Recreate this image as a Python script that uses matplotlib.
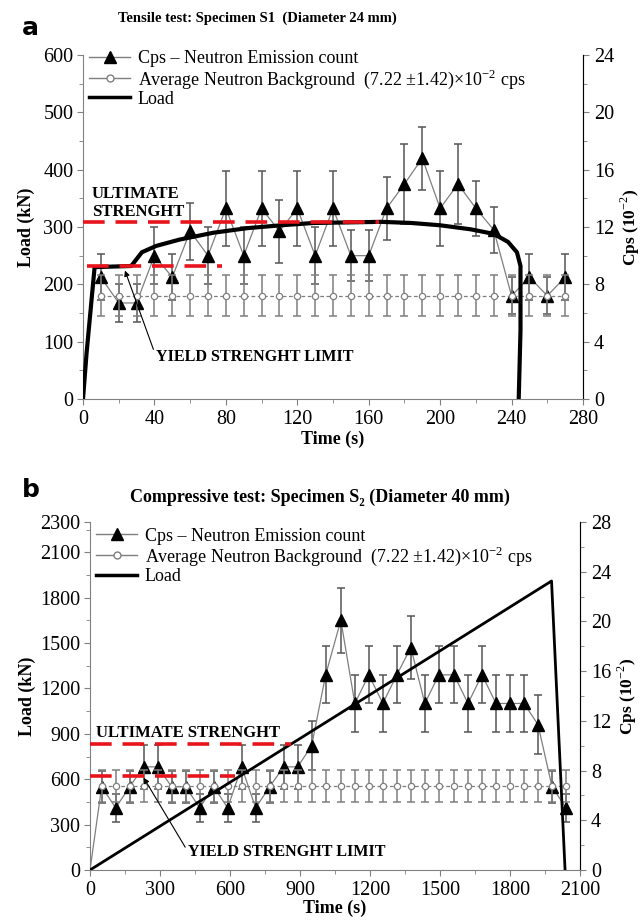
import numpy as np
import matplotlib
matplotlib.use("Agg")
import matplotlib.pyplot as plt
from matplotlib.lines import Line2D
from matplotlib.ticker import MultipleLocator, FixedLocator

plt.rcParams['font.family'] = ['Liberation Serif', 'DejaVu Serif']
plt.rcParams['mathtext.fontset'] = 'custom'
plt.rcParams['mathtext.rm'] = 'Liberation Serif'
plt.rcParams['mathtext.bf'] = 'Liberation Serif:bold'

# ---- panel a: tensile test ----
a_time = [10, 20, 30, 40, 50, 60, 70, 80, 90, 100, 110, 120, 130, 140,
          150, 160, 170, 180, 190, 200, 210, 220, 230, 240, 250, 260, 270]
a_cps = [8.5, 6.7, 6.7, 10.0, 8.5, 11.7, 10.0, 13.3, 10.0, 13.3, 11.7, 13.3, 10.0, 13.3,
         10.0, 10.0, 13.3, 15.0, 16.8, 13.3, 15.0, 13.3, 11.8, 7.2, 8.5, 7.2, 8.5]
a_cps_err = [1.6, 1.3, 1.3, 2.0, 1.6, 2.0, 2.0, 2.6, 2.0, 2.6, 2.2, 2.6, 2.0, 2.6,
             1.8, 1.8, 2.2, 2.8, 2.2, 2.6, 2.8, 1.9, 1.6, 1.3, 1.6, 1.3, 1.6]
a_bg = 7.22
a_bg_err = 1.42
a_load_t = [0, 2, 6.5, 27, 33, 41, 54, 73, 92, 111, 129, 167, 184, 200, 217,
            230, 238, 243, 245, 245, 244]
a_load = [0, 80, 230, 232, 256, 267, 278, 290, 298, 303, 307, 309, 307, 303, 296,
          288, 274, 256, 232, 120, 0]
a_ultimate = 309
a_ultimate_span = [0, 166]
a_yield = 232
a_yield_span = [2, 78]

# ---- panel b: compressive test ----
b_time = [50, 110, 170, 230, 290, 350, 410, 470, 530, 590, 650, 710, 770, 830, 890,
          950, 1010, 1075, 1135, 1195, 1255, 1315, 1375, 1435, 1495, 1560, 1620,
          1680, 1740, 1800, 1860, 1920, 1980, 2040]
b_cps = [6.7, 5.0, 6.7, 8.3, 8.3, 6.7, 6.7, 5.0, 6.7, 5.0, 8.3, 5.0, 6.7, 8.3, 8.3,
         10.0, 15.7, 20.1, 13.4, 15.7, 13.4, 15.7, 17.9, 13.4, 15.7, 15.7, 13.4,
         15.7, 13.4, 13.4, 13.4, 11.7, 6.7, 5.0]
b_cps_err = [1.3, 1.1, 1.3, 1.75, 1.75, 1.3, 1.3, 1.1, 1.3, 1.1, 1.75, 1.1, 1.3, 1.75, 1.75,
             1.95, 2.3, 2.6, 2.3, 2.3, 2.3, 2.3, 2.5, 2.3, 2.3, 2.3, 2.3,
             2.3, 2.3, 2.3, 2.3, 2.4, 1.3, 1.1]
b_bg = 6.75
b_bg_err = 1.3
b_load_t = [0, 1978, 2036]
b_load = [0, 1910, 0]
b_ultimate = 830
b_ultimate_span = [0, 860]
b_yield = 620
b_yield_span = [0, 620]

legend_labels = ['Cps \u2013 Neutron Emission count',
                 'Average Neutron Background  (7.22 \u00b11.42)\u00d710$^{-2}$ cps',
                 'Load']

GRAY = '#7f7f7f'
SPINE = '#808080'


def style_axes(ax, ax2):
    ax.spines['top'].set_visible(False)
    ax2.spines['top'].set_visible(False)
    for s in ['left', 'bottom']:
        ax.spines[s].set_color(SPINE)
    ax2.spines['right'].set_color(SPINE)
    ax2.spines['left'].set_visible(False)
    ax2.spines['bottom'].set_visible(False)
    for a in (ax, ax2):
        a.tick_params(which='major', direction='out', length=4, color=SPINE, labelsize=14.5)
        a.tick_params(which='minor', direction='out', length=3, color=SPINE)
    ax.tick_params(axis='x', pad=4)
    ax.tick_params(axis='y', pad=3)
    ax2.tick_params(axis='y', pad=4)


def draw_panel(ax, t, cps, err, bg, bg_err, load_t, load, load_lw):
    ax2 = ax.twinx()
    ax.set_zorder(ax2.get_zorder() + 1)
    ax.patch.set_visible(False)
    ax2.errorbar(t, cps, yerr=err, fmt='none', ecolor='#555555', elinewidth=1.1,
                 capsize=3, capthick=1.1, zorder=2)
    ax2.plot(t, cps, color=GRAY, lw=0.9, zorder=3)
    ax2.plot(t, cps, ls='none', marker='^', ms=8, color='black', zorder=4)
    bgv = [bg] * len(t)
    ax2.errorbar(t, bgv, yerr=bg_err, fmt='none', ecolor=GRAY, elinewidth=1.1,
                 capsize=3, capthick=1.1, zorder=5)
    ax2.plot(t, bgv, color=GRAY, lw=0.9, ls=(0, (3, 2)), marker='o', ms=4.5,
             mfc='white', mec=GRAY, mew=0.9, zorder=6)
    ax.plot(load_t, load, color='black', lw=load_lw, zorder=7, solid_capstyle='butt')
    return ax2


def red_line(ax, y, span):
    ax.plot(span, [y, y], color='#e8141c', lw=2.6, ls=(0, (6, 3)), zorder=9)


def legend(ax, fontsize, y0):
    handles = [Line2D([], [], color=GRAY, lw=1, marker='^', ms=8, mfc='black', mec='black'),
               Line2D([], [], color=GRAY, lw=1, marker='o', ms=5, mfc='white', mec=GRAY),
               Line2D([], [], color='black', lw=2.5)]
    ax.legend(handles, legend_labels, loc='upper left', bbox_to_anchor=(-0.01, y0),
              frameon=False, fontsize=fontsize, handlelength=2.3, handletextpad=0.4,
              labelspacing=0.0, borderaxespad=0.2)


fig = plt.figure(figsize=(6.41, 9.23), dpi=100)

# panel a
axa = fig.add_axes([83 / 641, 1 - 399 / 923, 500 / 641, 344 / 923])
axa2 = draw_panel(axa, a_time, a_cps, a_cps_err, a_bg, a_bg_err, a_load_t, a_load, 3.0)
red_line(axa, a_ultimate, a_ultimate_span)
red_line(axa, a_yield, a_yield_span)
axa.set_xlim(0, 280)
axa.set_ylim(0, 600)
axa2.set_ylim(0, 24)
axa.xaxis.set_major_locator(MultipleLocator(40))
axa.xaxis.set_minor_locator(MultipleLocator(20))
axa.yaxis.set_major_locator(MultipleLocator(100))
axa.yaxis.set_minor_locator(MultipleLocator(50))
axa2.yaxis.set_major_locator(MultipleLocator(4))
axa2.yaxis.set_minor_locator(MultipleLocator(2))
style_axes(axa, axa2)
axa.set_xlabel('Time (s)', fontsize=13, fontweight='bold', labelpad=1)
axa.set_ylabel('Load (kN)', fontsize=13, fontweight='bold', labelpad=6)
axa2.set_ylabel('Cps (10$^{-2}$)', fontsize=12.5, fontweight='bold', rotation=90, labelpad=3)
axa.text(5, 313, 'ULTIMATE\nSTRENGHT', fontsize=12, fontweight='bold', linespacing=1.1,
         va='bottom', ha='left', zorder=10)
axa.annotate('YIELD STRENGHT LIMIT', xy=(23.5, 224), xytext=(41, 73),
             fontsize=11.6, fontweight='bold', ha='left', va='center', zorder=10,
             arrowprops=dict(arrowstyle='-|>', color='black', lw=0.8,
                             mutation_scale=8, shrinkA=0, shrinkB=0,
                             relpos=(0, 0.5)))
legend(axa, 13, 1.045)
fig.text(257 / 641, 1 - 18 / 923, 'Tensile test: Specimen S1  (Diameter 24 mm)',
         fontsize=10.5, fontweight='bold', ha='center', va='center')
fig.text(22 / 641, 1 - 28 / 923, 'a', fontsize=18, fontweight='bold', ha='left',
         va='center', family='DejaVu Sans')

# panel b
axb = fig.add_axes([90 / 641, 53 / 923, 490 / 641, 348 / 923])
axb2 = draw_panel(axb, b_time, b_cps, b_cps_err, b_bg, b_bg_err, b_load_t, b_load, 2.0)
axb2.plot([0, b_time[0]], [0, b_cps[0]], color=GRAY, lw=0.9, zorder=3)
red_line(axb, b_ultimate, b_ultimate_span)
red_line(axb, b_yield, b_yield_span)
axb.set_xlim(0, 2100)
axb.set_ylim(0, 2300)
axb2.set_ylim(0, 28)
axb.xaxis.set_major_locator(MultipleLocator(300))
axb.xaxis.set_minor_locator(MultipleLocator(150))
axb.yaxis.set_major_locator(FixedLocator([0, 300, 600, 900, 1200, 1500, 1800, 2100, 2300]))
axb.yaxis.set_minor_locator(MultipleLocator(150))
axb2.yaxis.set_major_locator(MultipleLocator(4))
axb2.yaxis.set_minor_locator(MultipleLocator(2))
style_axes(axb, axb2)
axb.set_xlabel('Time (s)', fontsize=13, fontweight='bold', labelpad=0)
axb.set_ylabel('Load (kN)', fontsize=13, fontweight='bold', labelpad=3)
axb2.set_ylabel('Cps (10$^{-2}$)', fontsize=12.5, fontweight='bold', rotation=90, labelpad=3)
axb.text(25, 855, 'ULTIMATE STRENGHT', fontsize=12, fontweight='bold',
         va='bottom', ha='left', zorder=10)
axb.annotate('YIELD STRENGHT LIMIT', xy=(230, 610), xytext=(420, 120),
             fontsize=11.6, fontweight='bold', ha='left', va='center', zorder=10,
             arrowprops=dict(arrowstyle='-|>', color='black', lw=0.8,
                             mutation_scale=8, shrinkA=0, shrinkB=0,
                             relpos=(0, 0.5)))
legend(axb, 13, 1.015)
fig.text(320 / 641, 1 - 497 / 923, 'Compressive test: Specimen S\u2082 (Diameter 40 mm)',
         fontsize=13, fontweight='bold', ha='center', va='center')
fig.text(22 / 641, 1 - 490 / 923, 'b', fontsize=18, fontweight='bold', ha='left',
         va='center', family='DejaVu Sans')

fig.savefig('out.png', dpi=100)
